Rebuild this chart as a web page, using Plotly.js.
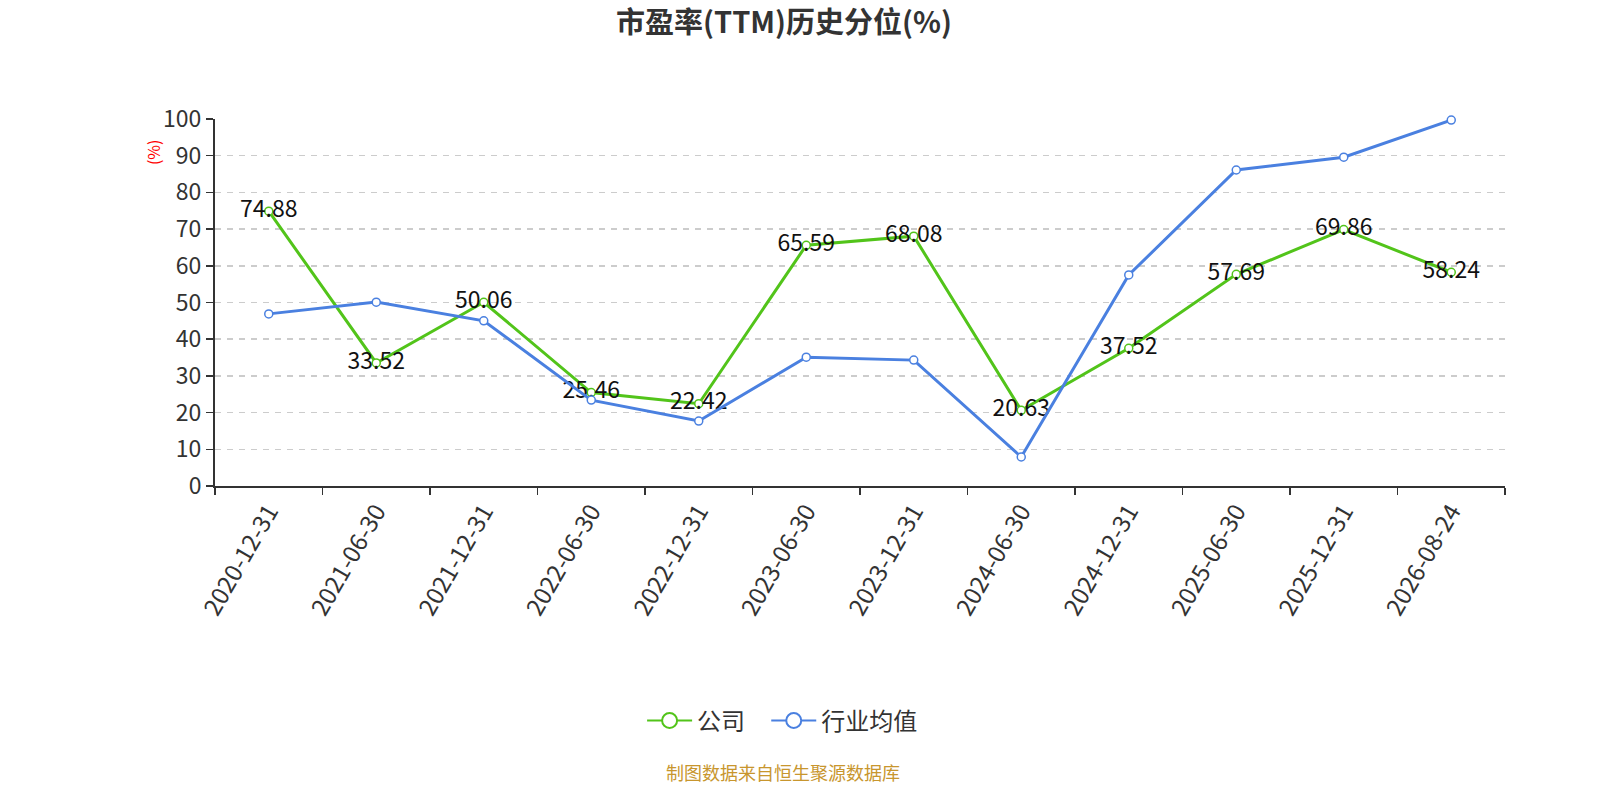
<!DOCTYPE html>
<html>
<head>
<meta charset="utf-8">
<script src="https://cdn.plot.ly/plotly-3.0.1.min.js"></script>
<style>
  html, body { margin: 0; padding: 0; background: #fff; }
  #chart { width: 1600px; height: 800px; }
</style>
</head>
<body>
<div id="chart"></div>
<script>
const dates = ['2020-12-31', '2021-06-30', '2021-12-31', '2022-06-30', '2022-12-31', '2023-06-30',
               '2023-12-31', '2024-06-30', '2024-12-31', '2025-06-30', '2025-12-31', '2026-08-24'];
const company = [74.88, 33.52, 50.06, 25.46, 22.42, 65.59, 68.08, 20.63, 37.52, 57.69, 69.86, 58.24];
const industry = [46.9, 50.1, 45.0, 23.4, 17.7, 35.1, 34.3, 7.9, 57.5, 86.1, 89.6, 99.7];
const yTicks = [0, 10, 20, 30, 40, 50, 60, 70, 80, 90, 100];

const font = '"Noto Sans CJK SC", "Noto Sans", sans-serif';
const green = '#52c41a';
const blue = '#4a80e0';

var trace1 = {
    x: dates,
    y: company,
    name: '公司',
    type: 'scatter',
    mode: 'lines+markers+text',
    text: company.map(v => v.toFixed(2)),
    textposition: 'middle center',
    textfont: { family: font, size: 23, color: '#111' },
    line: { color: green, width: 3 },
    marker: { size: 8, color: '#fff', line: { color: green, width: 1.5 } },
    showlegend: false,
    cliponaxis: false
};

var trace2 = {
    x: dates,
    y: industry,
    name: '行业均值',
    type: 'scatter',
    mode: 'lines+markers',
    line: { color: blue, width: 3 },
    marker: { size: 8, color: '#fff', line: { color: blue, width: 1.5 } },
    showlegend: false,
    cliponaxis: false
};

// legend-only entries with a bigger symbol, as in the original
var legend1 = {
    x: [null], y: [null], name: '公司\u00a0\u00a0\u00a0', type: 'scatter', mode: 'lines+markers',
    line: { color: green, width: 2 },
    marker: { size: 15, color: '#fff', line: { color: green, width: 2 } }
};
var legend2 = {
    x: [null], y: [null], name: '行业均值', type: 'scatter', mode: 'lines+markers',
    line: { color: blue, width: 2 },
    marker: { size: 15, color: '#fff', line: { color: blue, width: 2 } }
};

const layout = {
    width: 1600,
    height: 800,
    paper_bgcolor: '#fff',
    plot_bgcolor: '#fff',
    font: { family: font, color: '#333' },
    title: {
        text: '<b>市盈率(TTM)历史分位(%)</b>',
        font: { family: font, size: 29, color: '#333' },
        x: 0.49,
        xanchor: 'center',
        y: 0.972,
        yanchor: 'middle'
    },
    margin: { l: 215, r: 95, t: 119, b: 314 },
    showlegend: true,
    legend: {
        orientation: 'h',
        x: 0.44,
        xanchor: 'center',
        y: -0.64,
        yanchor: 'middle',
        font: { family: font, size: 24, color: '#333' },
        itemwidth: 45
    },
    xaxis: {
        type: 'category',
        range: [-0.5, 11.5],
        tickson: 'boundaries',
        ticks: 'outside',
        ticklen: 7,
        tickwidth: 1.5,
        tickcolor: '#333',
        showline: true,
        linecolor: '#333',
        linewidth: 2,
        showgrid: false,
        tickangle: -60,
        tickfont: { family: font, size: 24, color: '#333' },
        fixedrange: true
    },
    yaxis: {
        range: [0, 100],
        tickvals: yTicks,
        ticks: 'outside',
        ticklen: 7,
        tickwidth: 1.5,
        tickcolor: '#333',
        showline: true,
        linecolor: '#333',
        linewidth: 2,
        showgrid: true,
        gridcolor: '#cccccc',
        griddash: '6px,6px',
        gridwidth: 1.5,
        zeroline: false,
        tickfont: { family: font, size: 23, color: '#333' },
        fixedrange: true
    },
    annotations: [
        {
            text: '(%)',
            xref: 'paper', yref: 'paper',
            x: -0.048, y: 0.91,
            xanchor: 'center', yanchor: 'middle',
            textangle: -90,
            showarrow: false,
            font: { family: font, size: 16, color: '#ff0000' }
        },
        {
            text: '制图数据来自恒生聚源数据库',
            xref: 'paper', yref: 'paper',
            x: 0.44, y: -0.78,
            xanchor: 'center', yanchor: 'middle',
            showarrow: false,
            font: { family: font, size: 18, color: '#c8962e' }
        }
    ]
};

Plotly.newPlot('chart', [trace1, trace2, legend1, legend2], layout, { displayModeBar: false, staticPlot: true });
</script>
</body>
</html>
